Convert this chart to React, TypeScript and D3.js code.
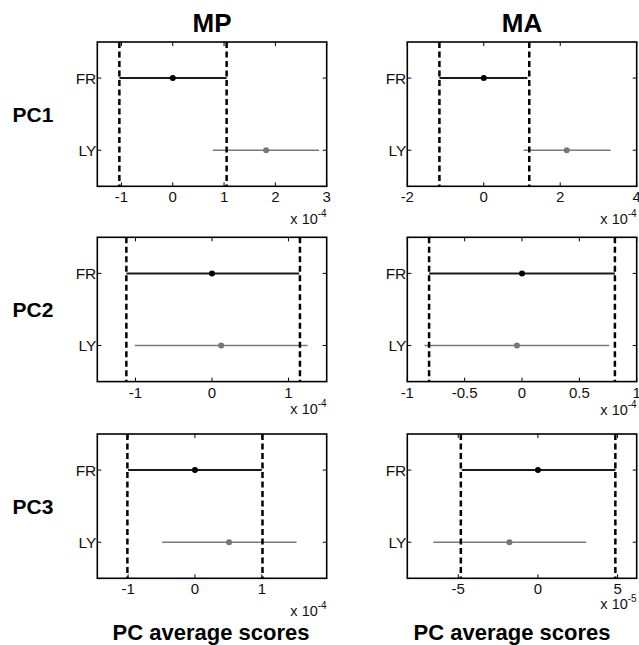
import * as d3 from 'd3';
import { useEffect, useRef } from 'react';

// panels in row order: PC1 MP, PC1 MA, PC2 MP, PC2 MA, PC3 MP, PC3 MA
const methods = ['MP', 'MA'];
const components = ['PC1', 'PC2', 'PC3'];
const groups = ['FR', 'LY'];

const frMean = [0, 0, 0, 0, 0, 0];
const frLow = [-1.04, -1.16, -1.12, -0.81, -1.0, -4.78];
const frHigh = [1.05, 1.14, 1.14, 0.81, 1.0, 4.86];

const lyMean = [1.82, 2.17, 0.12, -0.044, 0.51, -1.79];
const lyLow = [0.78, 1.04, -1.01, -0.85, -0.49, -6.57];
const lyHigh = [2.85, 3.32, 1.25, 0.76, 1.52, 3.04];

const threshLow = [-1.04, -1.16, -1.12, -0.81, -1.01, -4.84];
const threshHigh = [1.05, 1.19, 1.15, 0.81, 1.01, 4.86];

const xDomains = [[-1.47, 3], [-2, 4], [-1.5, 1.5], [-1, 1], [-1.46, 1.97], [-8.2, 6.2]];
const xTicks = [[-1, 0, 1, 2, 3], [-2, 0, 2, 4], [-1, 0, 1], [-1, -0.5, 0, 0.5, 1], [-1, 0, 1], [-5, 0, 5]];
const exponents = ['-4', '-4', '-4', '-4', '-4', '-5'];

const W = 639;
const H = 645;
const FONT = '"Liberation Sans", Arial, Helvetica, sans-serif';

const colLeft = [97.3, 407.3];
const rowTop = [42, 237.3, 434];
const boxW = 229.4;
const boxH = 144.3;
const expOffset = [38, 38, 32, 33, 38, 31];

const App = () => {
  const ref = useRef(null);

  useEffect(() => {
    const svg = d3.select(ref.current);
    svg.selectAll('*').remove();

    svg.append('rect').attr('width', W).attr('height', H).style('fill', '#fff');

    // column titles
    methods.forEach((m, c) => {
      svg
        .append('text')
        .attr('x', colLeft[c] + boxW / 2)
        .attr('y', 32)
        .attr('text-anchor', 'middle')
        .style('font-family', FONT)
        .style('font-weight', 'bold')
        .style('font-size', '26px')
        .text(m);
    });

    // row labels
    components.forEach((p, r) => {
      svg
        .append('text')
        .attr('x', 33)
        .attr('y', rowTop[r] + boxH / 2 + 8)
        .attr('text-anchor', 'middle')
        .style('font-family', FONT)
        .style('font-weight', 'bold')
        .style('font-size', '21px')
        .text(p);
    });

    // bottom x labels
    [211, 512].forEach((cx) => {
      svg
        .append('text')
        .attr('x', cx)
        .attr('y', 640)
        .attr('text-anchor', 'middle')
        .style('font-family', FONT)
        .style('font-weight', 'bold')
        .style('font-size', '22px')
        .text('PC average scores');
    });

    for (let i = 0; i < 6; i++) {
      const r = Math.floor(i / 2);
      const c = i % 2;
      const x0 = colLeft[c];
      const y0 = rowTop[r];

      const x = d3.scaleLinear().domain(xDomains[i]).range([x0, x0 + boxW]);
      const y = d3.scalePoint().domain(groups).range([y0 + boxH / 4, y0 + (boxH * 3) / 4]);

      const g = svg.append('g');

      // ticks inside the box, top and bottom
      xTicks[i].forEach((t) => {
        g.append('line')
          .attr('x1', x(t)).attr('x2', x(t))
          .attr('y1', y0 + boxH).attr('y2', y0 + boxH - 4)
          .style('stroke', '#000').style('stroke-width', 1);
        g.append('line')
          .attr('x1', x(t)).attr('x2', x(t))
          .attr('y1', y0).attr('y2', y0 + 4)
          .style('stroke', '#000').style('stroke-width', 1);
        g.append('text')
          .attr('x', x(t))
          .attr('y', y0 + boxH + 16)
          .attr('text-anchor', 'middle')
          .style('font-family', FONT)
          .style('font-size', '15px')
          .style('fill', '#111')
          .text(String(t));
      });

      groups.forEach((gr) => {
        g.append('line')
          .attr('x1', x0).attr('x2', x0 + 4)
          .attr('y1', y(gr)).attr('y2', y(gr))
          .style('stroke', '#000').style('stroke-width', 1);
        g.append('line')
          .attr('x1', x0 + boxW).attr('x2', x0 + boxW - 4)
          .attr('y1', y(gr)).attr('y2', y(gr))
          .style('stroke', '#000').style('stroke-width', 1);
        g.append('text')
          .attr('x', x0 - 1)
          .attr('y', y(gr))
          .attr('dy', '0.36em')
          .attr('text-anchor', 'end')
          .style('font-family', FONT)
          .style('font-size', '15.5px')
          .style('fill', '#111')
          .text(gr);
      });

      // exponent label
      const ex = g
        .append('text')
        .attr('x', x0 + boxW)
        .attr('y', y0 + boxH + expOffset[i])
        .attr('text-anchor', 'end')
        .style('font-family', FONT)
        .style('font-size', '14.5px')
        .style('fill', '#111');
      ex.append('tspan').text('x 10');
      ex.append('tspan').attr('dy', -7).style('font-size', '10px').text(exponents[i]);

      // intervals
      g.append('line')
        .attr('x1', x(lyLow[i])).attr('x2', x(lyHigh[i]))
        .attr('y1', y('LY')).attr('y2', y('LY'))
        .style('stroke', '#7a7a7a').style('stroke-width', 1.6);
      g.append('circle')
        .attr('cx', x(lyMean[i])).attr('cy', y('LY')).attr('r', 3)
        .style('fill', '#777');

      g.append('line')
        .attr('x1', x(frLow[i])).attr('x2', x(frHigh[i]))
        .attr('y1', y('FR')).attr('y2', y('FR'))
        .style('stroke', '#1a1a1a').style('stroke-width', 2);
      g.append('circle')
        .attr('cx', x(frMean[i])).attr('cy', y('FR')).attr('r', 3)
        .style('fill', '#000');

      // dashed thresholds
      [threshLow[i], threshHigh[i]].forEach((v) => {
        g.append('line')
          .attr('x1', x(v)).attr('x2', x(v))
          .attr('y1', y0).attr('y2', y0 + boxH)
          .style('stroke', '#000')
          .style('stroke-width', 2.5)
          .style('stroke-dasharray', '6,3.5');
      });

      g.append('rect')
        .attr('x', x0).attr('y', y0)
        .attr('width', boxW).attr('height', boxH)
        .style('fill', 'none')
        .style('stroke', '#000')
        .style('stroke-width', 1.6);
    }
  }, []);

  return (
    <svg
      ref={ref}
      width={W}
      height={H}
      style={{ position: 'absolute', left: 0, top: 0 }}
    />
  );
};

export default App;
